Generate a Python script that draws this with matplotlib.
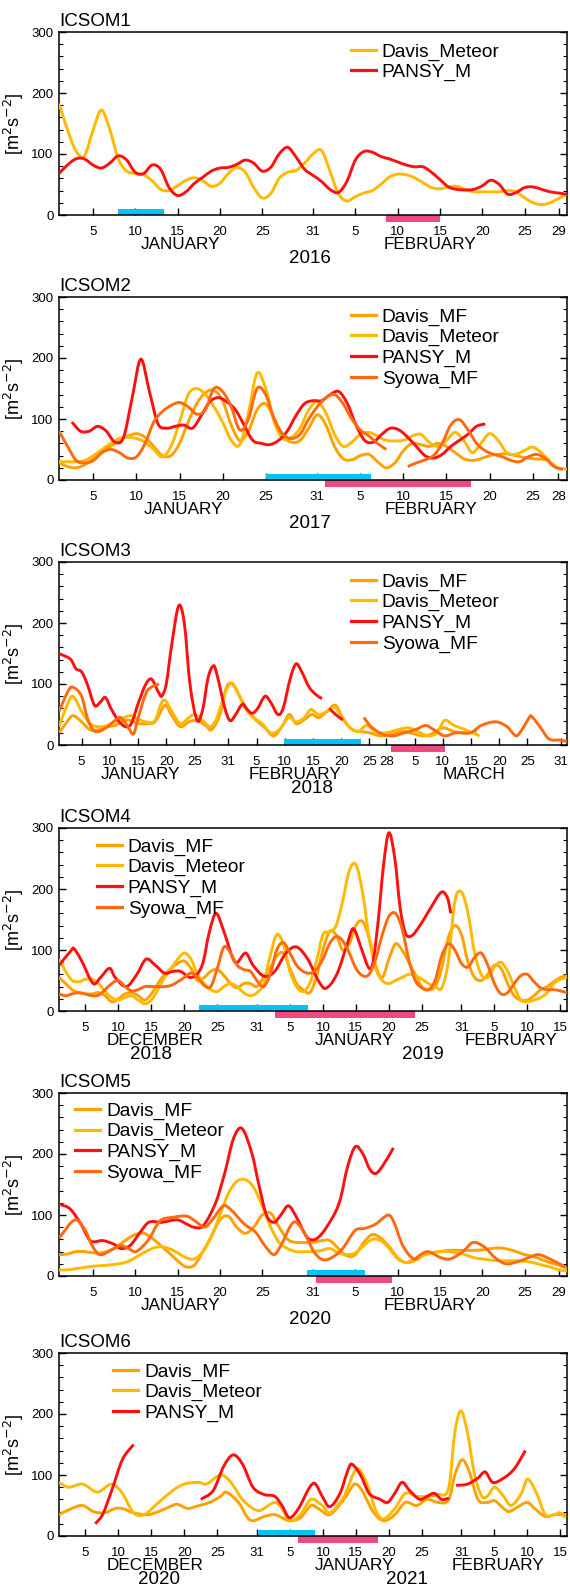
import matplotlib.pyplot as plt
import numpy as np
from matplotlib.lines import Line2D
from matplotlib.patches import PathPatch
from matplotlib.path import Path
from matplotlib.ticker import MultipleLocator

plt.rcParams["font.family"] = ["Liberation Sans", "DejaVu Sans"]

C_MF = "#ffa200"
C_MET = "#ffb900"
C_PANSY = "#ff1010"
C_SYOWA = "#ff6a10"
C_BLUE = "#00c4f4"
C_PINK = "#ef4a7e"

# ---------------- ICSOM1 (Jan-Feb 2016), day 0 = Jan 1 ----------------
p1_days = np.arange(61)
p1_meteor = [183, 140, 105, 97, 138, 172, 140, 92, 72, 68,
             66, 56, 42, 40, 48, 57, 61, 56, 47, 52,
             68, 78, 70, 45, 28, 35, 60, 70, 73, 85,
             100, 106, 72, 35, 23, 30, 36, 40, 50, 62,
             67, 66, 61, 53, 45, 43, 46, 47, 42, 38,
             38, 38, 38, 40, 38, 28, 20, 17, 20, 27, 34]
p1_pansy = [68, 82, 92, 92, 82, 77, 85, 97, 90, 70,
            68, 82, 75, 45, 32, 38, 52, 62, 72, 77,
            78, 83, 90, 85, 72, 78, 100, 111, 95, 75,
            65, 55, 42, 37, 55, 90, 104, 103, 96, 92,
            87, 82, 79, 79, 70, 58, 46, 42, 41, 42,
            48, 57, 50, 34, 37, 45, 46, 42, 38, 36, 34]

# ---------------- ICSOM2 (Jan-Feb 2017) ----------------
p2_mf_days = np.arange(58)
p2_mf = [28, 22, 20, 25, 35, 45, 55, 65, 72, 76,
         70, 55, 40, 40, 60, 95, 125, 143, 147, 130,
         90, 65, 80, 115, 125, 100, 72, 62, 65, 85,
         107, 90, 55, 35, 33, 40, 42, 30, 20, 28,
         48, 60, 58, 55, 60, 55, 45, 35, 32, 35,
         40, 42, 43, 40, 37, 35, 34, 33]
p2_met_days = np.arange(60)
p2_met = [30, 30, 30, 32, 40, 50, 60, 68, 70, 68,
          62, 50, 38, 55, 95, 140, 150, 140, 120, 95,
          65, 58, 110, 175, 150, 95, 68, 70, 85, 115,
          128, 110, 75, 55, 62, 75, 78, 72, 65, 64,
          65, 72, 75, 62, 55, 65, 78, 65, 45, 60,
          76, 65, 45, 42, 48, 54, 45, 30, 20, 18]
p2_pansy_days = np.arange(1.5, 50, 1)
p2_pansy = [95, 80, 80, 88, 80, 62, 70, 135, 198, 145,
            92, 85, 88, 90, 85, 105, 128, 135, 128, 115,
            90, 65, 60, 58, 65, 80, 105, 125, 130, 130,
            140, 145, 125, 90, 65, 62, 75, 85, 82, 70,
            55, 40, 36, 42, 55, 65, 75, 88, 92]
p2_syowa_days_a = np.arange(39)
p2_syowa_a = [80, 55, 32, 28, 32, 45, 50, 45, 36, 38,
              60, 95, 112, 122, 127, 120, 108, 115, 150, 145,
              120, 82, 100, 150, 140, 100, 75, 68, 75, 100,
              120, 135, 140, 125, 100, 82, 72, 60, 50]
p2_syowa_days_b = np.arange(40.5, 59, 1)
p2_syowa_b = [22, 28, 33, 40, 60, 90, 99, 82, 60, 48,
              42, 38, 32, 30, 38, 42, 35, 22, 17]

# ---------------- ICSOM3 (Jan-Mar 2018) ----------------
p3_pansy_days_a = [0, 2.1, 3, 4, 5, 6.3, 7.3, 8.2, 9.2, 10.5, 11.8, 12.8, 14.1, 15.4,
                   16.4, 17.7, 18.2, 19, 19.9, 21.2, 22.2, 23.2, 24.5, 25.5, 26.4,
                   27.4, 28, 29.4, 30.3, 31.3, 32.5, 33.2, 34.2, 35.2, 36.5, 37.5,
                   38.8, 39.7, 41, 42, 43, 44.3, 45.6, 46.6]
p3_pansy_a = [150, 140, 125, 120, 100, 65, 70, 78, 60, 40, 30, 35, 70, 100,
              108, 85, 80, 100, 160, 228, 200, 100, 40, 60, 110,
              130, 115, 60, 40, 50, 67, 60, 52, 60, 80, 70,
              50, 60, 110, 133, 120, 95, 82, 76]
p3_pansy_days_b = [47.9, 49, 50.3]
p3_pansy_b = [60, 50, 41]
p3_syowa_days_a = [0, 1.7, 2.4, 4, 5, 6, 7, 8.6, 9.9, 10.9, 12.2, 13.2, 13.9, 15.4, 16.4, 17.7]
p3_syowa_a = [55, 90, 95, 80, 45, 25, 22, 30, 40, 45, 30, 18, 40, 85, 95, 100]
p3_syowa_days_b = [54, 55.3, 57.2, 59.2, 61.2, 63.1, 65, 66.4, 68.3, 70.3, 72.9, 74.8,
                   77.4, 79.4, 81, 82, 83.3, 83.6, 85.2, 86.8, 89, 90]
p3_syowa_b = [45, 30, 18, 15, 20, 25, 32, 25, 15, 20, 20, 32,
              38, 30, 15, 25, 45, 48, 30, 10, 8, 5]
p3_met_days = [0, 1.2, 2.4, 4, 5.5, 7, 8.6, 9.9, 11.5, 12.8, 14.1, 15.4, 17, 18.2, 18.8,
               20, 21.5, 23, 24, 25.5, 26.8, 28, 29.4, 30.5, 31.5, 33, 34.5, 36, 37.5,
               39, 40.7, 42, 43.5, 44.6, 46, 47.5, 48.8, 50, 51.4, 53, 54.5, 56, 58,
               60, 62, 64, 65.5, 67, 68.3, 70, 72, 74.5]
p3_met = [30, 60, 80, 55, 35, 30, 32, 38, 45, 48, 42, 38, 40, 70, 73,
          55, 35, 45, 50, 40, 30, 45, 85, 102, 90, 60, 45, 35, 20,
          25, 45, 38, 45, 58, 50, 55, 62, 48, 30, 22, 32, 22, 20,
          25, 28, 20, 15, 20, 40, 32, 25, 15]
p3_mf_days = [0, 1.2, 2.4, 4, 5.5, 7, 8.6, 9.9, 11.5, 12.8, 14.1, 15.4, 17, 18.8, 20,
              21.5, 23, 24.5, 26, 27, 28.5, 29.7, 30.7, 32, 33.5, 35, 36.5, 38, 39.5,
              40.8, 42, 43.5, 44.8, 46, 47.5, 49, 50.5, 52, 53.5, 55, 57, 59, 61, 63,
              64.5, 66, 68, 70, 72, 74]
p3_mf = [20, 35, 48, 38, 25, 25, 30, 32, 40, 40, 35, 35, 38, 65, 48,
         30, 38, 40, 32, 25, 50, 95, 100, 80, 55, 40, 28, 15, 30,
         50, 35, 42, 50, 45, 55, 65, 40, 25, 22, 20, 15, 18, 22, 18,
         15, 18, 28, 22, 20, 22]

# ---------------- ICSOM4 (Dec 2018 - Feb 2019), day 0 = Dec 1 ----------------
p4_days = np.arange(78)
p4_met = [85, 65, 50, 48, 52, 52, 45, 32, 22, 18,
          22, 25, 18, 12, 18, 35, 55, 70, 85, 95,
          85, 60, 45, 35, 32, 40, 45, 40, 30, 25,
          30, 45, 90, 125, 110, 65, 40, 32, 45, 80,
          125, 130, 140, 180, 230, 240, 195, 120, 70, 50,
          45, 50, 55, 60, 58, 52, 45, 40, 38, 80,
          180, 195, 160, 95, 60, 55, 72, 80, 65, 40,
          18, 15, 18, 22, 30, 45, 52, 55]
p4_mf = [55, 45, 35, 30, 28, 28, 30, 25, 15, 20,
         28, 30, 25, 18, 28, 45, 60, 70, 78, 82,
         70, 50, 55, 65, 68, 58, 45, 38, 45, 45,
         40, 55, 70, 90, 95, 70, 45, 35, 30, 55,
         100, 130, 125, 100, 110, 140, 147, 120, 75, 55,
         85, 110, 100, 80, 60, 40, 35, 40, 70, 120,
         140, 125, 80, 55, 50, 60, 75, 70, 45, 25,
         18, 18, 25, 35, 40, 48, 55, 58]
p4_syowa = [28, 25, 28, 30, 28, 25, 26, 35, 45, 50,
            40, 33, 35, 40, 40, 40, 40, 42, 48, 55,
            62, 55, 42, 40, 70, 105, 95, 75, 68, 65,
            50, 40, 60, 100, 112, 95, 75, 65, 62, 68,
            85, 110, 122, 115, 95, 70, 58, 60, 85, 125,
            155, 160, 135, 85, 50, 38, 35, 50, 90, 110,
            100, 78, 72, 88, 95, 75, 45, 28, 30, 45,
            58, 60, 48, 38, 35, 35, 33, 30]
p4_pansy_days = [0, 1.9, 2.2, 3.3, 5.2, 6.3, 7.7, 8.5, 10.2, 11.8, 13.2, 14.6, 16,
                 17.3, 18.4, 20.1, 21.7, 22.8, 23.8, 25, 26.7, 28.3, 29.4, 31.1,
                 32.7, 34.4, 36, 37.7, 39.3, 40.4, 42.1, 43.7, 44.6, 45.9, 47,
                 47.6, 48.4, 49.2, 50, 50.9, 51.7, 52.5, 53.4, 54.7, 56.4, 58,
                 58.9, 59.4]
p4_pansy = [75, 100, 103, 85, 45, 55, 70, 55, 40, 60, 85, 75, 62,
            65, 65, 55, 75, 130, 160, 130, 80, 95, 75, 57,
            65, 95, 105, 85, 50, 37, 60, 110, 135, 100, 70,
            80, 150, 240, 292, 250, 170, 128, 123, 140, 170, 195,
            185, 160]

# ---------------- ICSOM5 (Jan-Feb 2020) ----------------
p5_days = np.arange(61)
p5_met = [10, 10, 12, 14, 16, 17, 18, 20, 23, 30,
          38, 45, 48, 45, 38, 30, 28, 40, 65, 100,
          135, 155, 158, 145, 115, 80, 55, 45, 40, 40,
          40, 42, 45, 38, 35, 38, 50, 60, 58, 45,
          28, 22, 25, 33, 38, 40, 40, 38, 35, 30,
          28, 26, 25, 25, 25, 24, 22, 18, 15, 10, 8]
p5_mf = [35, 36, 40, 40, 38, 38, 42, 50, 60, 68,
         70, 62, 50, 38, 25, 15, 18, 40, 65, 92,
         98, 80, 70, 80, 100, 103, 80, 60, 55, 55,
         55, 58, 58, 45, 33, 35, 55, 68, 62, 48,
         30, 22, 28, 35, 38, 40, 42, 42, 42, 42,
         43, 45, 46, 44, 40, 35, 32, 27, 22, 18, 12]
p5_pansy_days = [0, 1.3, 2.6, 3.7, 5.2, 6.5, 7.3, 8.4, 9.5, 10.6, 12.1, 14, 15.1, 15.9,
                 17, 18.5, 19.6, 20.6, 21.6, 22.8, 23.6, 24.5, 25.4, 26.2, 27.1, 28.1,
                 29, 29.6, 30.5, 31.6, 33.1, 34.1, 35, 35.9, 36.7, 37.4, 38.2, 39.5]
p5_pansy = [118, 110, 85, 58, 58, 52, 45, 50, 70, 88, 88, 92, 85, 80,
            82, 120, 170, 225, 242, 200, 150, 100, 88, 100, 115, 95,
            70, 60, 62, 80, 120, 180, 212, 200, 175, 168, 180, 210]
p5_syowa_days = [0, 1.9, 3.1, 3.9, 4.8, 6.1, 7.3, 8.2, 9.1, 10.6, 11.9, 13.4, 15.1, 16.1,
                 17.2, 18.1, 19.4, 20.2, 21.9, 23.2, 24.3, 25.4, 26.2, 27.7, 28.8, 30.1,
                 31.1, 32.2, 33.5, 35, 36.1, 37.4, 38.9, 39.5, 40.6, 41.9, 42.7, 43.6,
                 45.1, 46.2, 47.7, 48.9, 50.2, 51.5, 52.8, 54.5, 55.8, 56.7, 58.4, 59.8]
p5_syowa = [62, 92, 75, 50, 35, 42, 50, 45, 40, 60, 90, 96, 98, 90,
            80, 92, 115, 110, 85, 72, 50, 35, 50, 88, 75, 40,
            27, 30, 45, 75, 78, 85, 100, 90, 50, 28, 35, 40,
            30, 28, 40, 55, 48, 30, 20, 25, 32, 35, 25, 15]

# ---------------- ICSOM6 (Dec 2020 - Feb 2021), day 0 = Dec 1 ----------------
p6_pansy_days_a = [5.5, 6.6, 8, 9.6, 11.3]
p6_pansy_a = [20, 35, 75, 125, 150]
p6_pansy_days_b = [21.5, 23.4, 25, 26.4, 27.8, 29.4, 31.1, 32.7, 33.8, 34.9, 36.3, 38,
                   38.8, 39.9, 41, 42.6, 43.7, 44.3, 45.7, 47, 48.7, 49.8, 50.9, 52,
                   53.1, 54.7, 55.8, 56.9, 58, 59.1]
p6_pansy_b = [60, 75, 115, 133, 118, 80, 68, 65, 50, 30, 45, 80,
              86, 65, 48, 70, 105, 118, 100, 70, 60, 55, 70, 88,
              75, 60, 65, 70, 60, 62]
p6_pansy_days_c = [60.2, 61.9, 63.5, 64.6, 65.7, 67.4, 69, 70.7]
p6_pansy_c = [83, 85, 95, 105, 88, 95, 110, 140]
p6_met_days = [0, 1.4, 3.6, 5.8, 8, 9.6, 11.3, 12.9, 15.1, 17.3, 19, 21.2, 22.3, 24.5,
               25.9, 27.8, 29.4, 30.5, 32.7, 33.8, 34.9, 36.6, 38.2, 39.9, 41, 43.2,
               45.1, 46.5, 48.1, 49.2, 50.9, 52.5, 54.2, 55.8, 57.5, 59.1, 60, 60.9,
               61.9, 63, 64.1, 64.9, 66, 67.4, 68.5, 70.1, 71, 72.4, 73.7, 75.1, 75.9,
               76.8]
p6_met = [88, 80, 85, 72, 85, 70, 38, 35, 55, 75, 85, 88, 85, 100,
          90, 60, 45, 42, 55, 45, 25, 35, 60, 50, 38, 65,
          110, 90, 40, 28, 45, 70, 65, 65, 68, 80, 170, 205,
          170, 100, 65, 65, 80, 65, 50, 70, 93, 70, 35, 35, 38,
          30]
p6_mf_days = [0, 1.9, 3.6, 5.2, 6.9, 8.5, 9.6, 11.3, 13.5, 15.1, 16.8, 17.9, 19.5, 20.6,
              22.8, 24.5, 25.3, 27.2, 28.6, 29.4, 31.1, 32.7, 33.8, 34.9, 36.6, 38.2,
              39.3, 41, 43.2, 44.8, 45.9, 47.6, 49.2, 50.9, 52.5, 54.2, 55.8, 57.5,
              59.1, 60, 61.1, 62.2, 63.5, 64.9, 66, 67.4, 68.2, 69.6, 71, 72.1, 73.7,
              75.1, 76.8]
p6_mf = [35, 45, 50, 40, 38, 45, 45, 38, 35, 40, 48, 52, 45, 48,
         55, 65, 72, 55, 30, 25, 32, 35, 30, 25, 30, 50,
         45, 35, 60, 85, 75, 40, 25, 35, 55, 50, 60, 55,
         60, 100, 125, 105, 60, 55, 58, 45, 40, 48, 55, 45, 32,
         35, 35]

# observation periods (start day, end day)
p1_blue, p1_pink = (7.0, 12.4), (38.6, 45.0)
p2_blue, p2_pink = (24.0, 36.2), (30.9, 47.8)
p3_blue, p3_pink = (39.9, 53.5), (58.9, 68.4)
p4_blue, p4_pink = (21.2, 37.7), (32.7, 53.9)
p5_blue, p5_pink = (29.3, 36.2), (30.4, 39.3)
p6_blue, p6_pink = (30.1, 38.8), (36.3, 48.4)

# tick positions / labels
jf_ticks = [4, 9, 14, 19, 24, 30, 35, 40, 45, 50, 55, 59]
jf_labels = ["5", "10", "15", "20", "25", "31", "5", "10", "15", "20", "25", "29"]
jf17_ticks = [4, 9, 14, 19, 24, 30, 35, 40, 45, 50, 55, 58]
jf17_labels = ["5", "10", "15", "20", "25", "31", "5", "10", "15", "20", "25", "28"]
jfm_ticks = [4, 9, 14, 19, 24, 30, 35, 40, 45, 50, 55, 58, 63, 68, 73, 78, 83, 89]
jfm_labels = ["5", "10", "15", "20", "25", "31", "5", "10", "15", "20", "25", "28",
              "5", "10", "15", "20", "25", "31"]
djf_ticks = [4, 9, 14, 19, 24, 30, 35, 40, 45, 50, 55, 61, 66, 71, 76]
djf_labels = ["5", "10", "15", "20", "25", "31", "5", "10", "15", "20", "25", "31",
              "5", "10", "15"]


def curve(x, y):
    """Path through the read points, drawn as a smooth (Hermite) curve."""
    x = np.asarray(x, float)
    y = np.asarray(y, float)
    n = len(x)
    m = np.empty(n)
    m[1:-1] = (y[2:] - y[:-2]) / (x[2:] - x[:-2])
    m[0] = (y[1] - y[0]) / (x[1] - x[0])
    m[-1] = (y[-1] - y[-2]) / (x[-1] - x[-2])
    verts = [(x[0], y[0])]
    codes = [Path.MOVETO]
    for i in range(n - 1):
        h = (x[i + 1] - x[i]) / 3
        verts += [(x[i] + h, y[i] + m[i] * h),
                  (x[i + 1] - h, y[i + 1] - m[i + 1] * h),
                  (x[i + 1], y[i + 1])]
        codes += [Path.CURVE4] * 3
    return Path(verts, codes)


def panel(ax, title, xmax, series, ticks, labels, months, years, blue, pink,
          leg_xy):
    handles = []
    for label, color, segs in series:
        for d, v in segs:
            ax.add_patch(PathPatch(curve(d, v), fill=False, edgecolor=color,
                                   lw=2.1, capstyle="butt", zorder=3))
        handles.append(Line2D([], [], color=color, lw=2.3, label=label))
    ax.bar(blue[0], 10, width=blue[1] - blue[0], align="edge", color=C_BLUE,
           zorder=2)
    ax.bar(pink[0], -11, width=pink[1] - pink[0], align="edge", color=C_PINK,
           clip_on=False, zorder=2)
    ax.set_xlim(0, xmax)
    ax.set_ylim(0, 300)
    ax.set_xticks(ticks)
    ax.set_xticklabels(labels)
    ax.set_yticks([0, 100, 200, 300])
    ax.yaxis.set_minor_locator(MultipleLocator(20))
    ax.tick_params(axis="x", direction="in", length=5, width=1, pad=8,
                   labelsize=9.5)
    ax.tick_params(axis="y", which="both", direction="in", left=True,
                   right=True, labelsize=9.5, pad=4)
    ax.tick_params(axis="y", which="major", length=5, width=1)
    ax.tick_params(axis="y", which="minor", length=3, width=0.8)
    for s in ax.spines.values():
        s.set_linewidth(1.1)
    ax.set_title(title, loc="left", fontsize=13.5, pad=4)
    ax.set_ylabel("[m$^2$s$^{-2}$]", fontsize=13)
    ax.yaxis.set_label_coords(-0.065, 0.5)
    for x, t in months:
        ax.annotate(t, (x, 0), xycoords=("data", "axes fraction"),
                    xytext=(0, -21), textcoords="offset points",
                    ha="center", va="center", fontsize=12.3)
    for x, t in years:
        ax.annotate(t, (x, 0), xycoords=("data", "axes fraction"),
                    xytext=(0, -31.5), textcoords="offset points",
                    ha="center", va="center", fontsize=13.5)
    ax.legend(handles=handles, loc="upper left", bbox_to_anchor=leg_xy,
              frameon=False, fontsize=13.8, handlelength=1.3,
              handletextpad=0.3, labelspacing=0.16, borderaxespad=0,
              borderpad=0)


fig = plt.figure(figsize=(5.7, 15.92), dpi=100)
tops = [32, 297, 562, 828, 1093, 1353]
axes = [fig.add_axes([59 / 570, 1 - (t + 183) / 1592, 508 / 570, 183 / 1592])
        for t in tops]

panel(axes[0], "ICSOM1", 60,
      [("Davis_Meteor", C_MET, [(p1_days, p1_meteor)]),
       ("PANSY_M", C_PANSY, [(p1_days, p1_pansy)])],
      jf_ticks, jf_labels,
      [(14.4, "JANUARY"), (43.8, "FEBRUARY")], [(29.6, "2016")],
      p1_blue, p1_pink, (0.575, 0.94))

panel(axes[1], "ICSOM2", 59,
      [("Davis_MF", C_MF, [(p2_mf_days, p2_mf)]),
       ("Davis_Meteor", C_MET, [(p2_met_days, p2_met)]),
       ("PANSY_M", C_PANSY, [(p2_pansy_days, p2_pansy)]),
       ("Syowa_MF", C_SYOWA, [(p2_syowa_days_a, p2_syowa_a),
                              (p2_syowa_days_b, p2_syowa_b)])],
      jf17_ticks, jf17_labels,
      [(14.4, "JANUARY"), (43.2, "FEBRUARY")], [(29.1, "2017")],
      p2_blue, p2_pink, (0.575, 0.94))

panel(axes[2], "ICSOM3", 90,
      [("Davis_MF", C_MF, [(p3_mf_days, p3_mf)]),
       ("Davis_Meteor", C_MET, [(p3_met_days, p3_met)]),
       ("PANSY_M", C_PANSY, [(p3_pansy_days_a, p3_pansy_a),
                             (p3_pansy_days_b, p3_pansy_b)]),
       ("Syowa_MF", C_SYOWA, [(p3_syowa_days_a, p3_syowa_a),
                              (p3_syowa_days_b, p3_syowa_b)])],
      jfm_ticks, jfm_labels,
      [(14.4, "JANUARY"), (41.8, "FEBRUARY"), (73.5, "MARCH")], [(44.9, "2018")],
      p3_blue, p3_pink, (0.575, 0.94))

panel(axes[3], "ICSOM4", 77,
      [("Davis_MF", C_MF, [(p4_days, p4_mf)]),
       ("Davis_Meteor", C_MET, [(p4_days, p4_met)]),
       ("PANSY_M", C_PANSY, [(p4_pansy_days, p4_pansy)]),
       ("Syowa_MF", C_SYOWA, [(p4_days, p4_syowa)])],
      djf_ticks, djf_labels,
      [(14.5, "DECEMBER"), (44.8, "JANUARY"), (68.5, "FEBRUARY")],
      [(13.9, "2018"), (55.2, "2019")],
      p4_blue, p4_pink, (0.075, 0.945))

panel(axes[4], "ICSOM5", 60,
      [("Davis_MF", C_MF, [(p5_days, p5_mf)]),
       ("Davis_Meteor", C_MET, [(p5_days, p5_met)]),
       ("PANSY_M", C_PANSY, [(p5_pansy_days, p5_pansy)]),
       ("Syowa_MF", C_SYOWA, [(p5_syowa_days, p5_syowa)])],
      jf_ticks, jf_labels,
      [(14.4, "JANUARY"), (43.8, "FEBRUARY")], [(29.6, "2020")],
      p5_blue, p5_pink, (0.032, 0.95))

panel(axes[5], "ICSOM6", 77,
      [("Davis_MF", C_MF, [(p6_mf_days, p6_mf)]),
       ("Davis_Meteor", C_MET, [(p6_met_days, p6_met)]),
       ("PANSY_M", C_PANSY, [(p6_pansy_days_a, p6_pansy_a),
                             (p6_pansy_days_b, p6_pansy_b),
                             (p6_pansy_days_c, p6_pansy_c)])],
      djf_ticks, djf_labels,
      [(14.5, "DECEMBER"), (44.8, "JANUARY"), (66.6, "FEBRUARY")],
      [(15.1, "2020"), (52.8, "2021")],
      p6_blue, p6_pink, (0.107, 0.945))

fig.savefig("out.png", dpi=100)
